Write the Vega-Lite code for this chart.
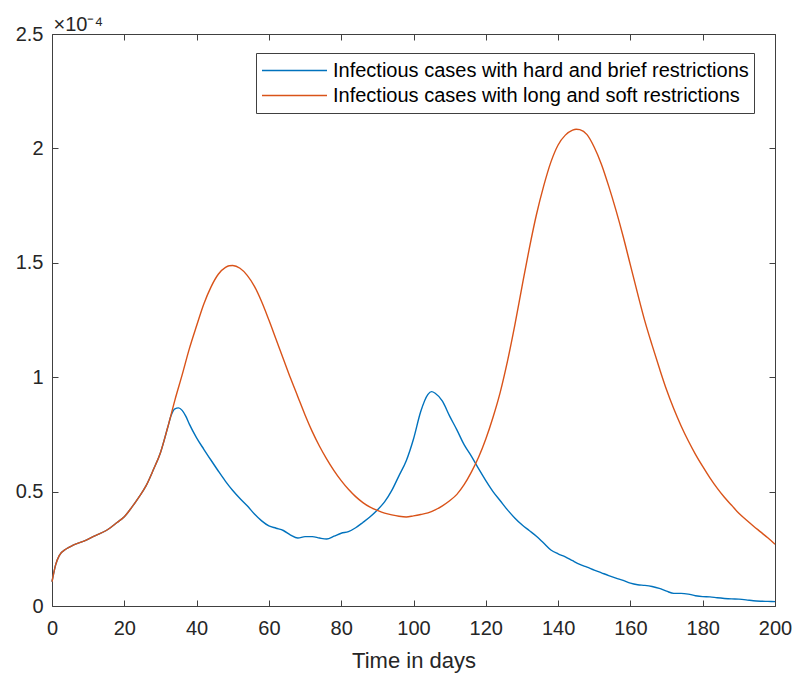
{
  "$schema": "https://vega.github.io/schema/vega-lite/v6.json",
  "width": 723,
  "height": 572,
  "autosize": {"type": "none"},
  "padding": {"left": 52, "top": 34, "right": 20, "bottom": 71},
  "background": "white",
  "config": {
    "view": {"stroke": "#404040", "strokeWidth": 1},
    "font": "Liberation Sans",
    "axis": {
      "domain": false,
      "grid": false,
      "tickColor": "#404040",
      "tickSize": -6,
      "labelColor": "#262626",
      "titleColor": "#262626",
      "labelFont": "Liberation Sans",
      "titleFont": "Liberation Sans",
      "labelFontSize": 20,
      "titleFontSize": 22,
      "titleFontWeight": "normal",
      "labelFlush": false
    }
  },
  "datasets": {
    "curves": [
      {"day": 0, "value": 0.106, "series": "Infectious cases with hard and brief restrictions"},
      {"day": 1, "value": 0.18, "series": "Infectious cases with hard and brief restrictions"},
      {"day": 2, "value": 0.22, "series": "Infectious cases with hard and brief restrictions"},
      {"day": 4, "value": 0.25, "series": "Infectious cases with hard and brief restrictions"},
      {"day": 6, "value": 0.267, "series": "Infectious cases with hard and brief restrictions"},
      {"day": 9, "value": 0.285, "series": "Infectious cases with hard and brief restrictions"},
      {"day": 12, "value": 0.308, "series": "Infectious cases with hard and brief restrictions"},
      {"day": 15, "value": 0.33, "series": "Infectious cases with hard and brief restrictions"},
      {"day": 18, "value": 0.365, "series": "Infectious cases with hard and brief restrictions"},
      {"day": 20, "value": 0.39, "series": "Infectious cases with hard and brief restrictions"},
      {"day": 22, "value": 0.43, "series": "Infectious cases with hard and brief restrictions"},
      {"day": 24, "value": 0.475, "series": "Infectious cases with hard and brief restrictions"},
      {"day": 26, "value": 0.525, "series": "Infectious cases with hard and brief restrictions"},
      {"day": 28, "value": 0.594, "series": "Infectious cases with hard and brief restrictions"},
      {"day": 30, "value": 0.67, "series": "Infectious cases with hard and brief restrictions"},
      {"day": 32, "value": 0.78, "series": "Infectious cases with hard and brief restrictions"},
      {"day": 33, "value": 0.835, "series": "Infectious cases with hard and brief restrictions"},
      {"day": 34, "value": 0.862, "series": "Infectious cases with hard and brief restrictions"},
      {"day": 35, "value": 0.866, "series": "Infectious cases with hard and brief restrictions"},
      {"day": 36, "value": 0.855, "series": "Infectious cases with hard and brief restrictions"},
      {"day": 37, "value": 0.83, "series": "Infectious cases with hard and brief restrictions"},
      {"day": 38, "value": 0.795, "series": "Infectious cases with hard and brief restrictions"},
      {"day": 40, "value": 0.735, "series": "Infectious cases with hard and brief restrictions"},
      {"day": 42, "value": 0.685, "series": "Infectious cases with hard and brief restrictions"},
      {"day": 44, "value": 0.637, "series": "Infectious cases with hard and brief restrictions"},
      {"day": 46, "value": 0.59, "series": "Infectious cases with hard and brief restrictions"},
      {"day": 48, "value": 0.545, "series": "Infectious cases with hard and brief restrictions"},
      {"day": 50, "value": 0.505, "series": "Infectious cases with hard and brief restrictions"},
      {"day": 52, "value": 0.47, "series": "Infectious cases with hard and brief restrictions"},
      {"day": 54, "value": 0.438, "series": "Infectious cases with hard and brief restrictions"},
      {"day": 56, "value": 0.402, "series": "Infectious cases with hard and brief restrictions"},
      {"day": 58, "value": 0.372, "series": "Infectious cases with hard and brief restrictions"},
      {"day": 60, "value": 0.35, "series": "Infectious cases with hard and brief restrictions"},
      {"day": 62, "value": 0.34, "series": "Infectious cases with hard and brief restrictions"},
      {"day": 64, "value": 0.33, "series": "Infectious cases with hard and brief restrictions"},
      {"day": 66, "value": 0.31, "series": "Infectious cases with hard and brief restrictions"},
      {"day": 68, "value": 0.297, "series": "Infectious cases with hard and brief restrictions"},
      {"day": 70, "value": 0.303, "series": "Infectious cases with hard and brief restrictions"},
      {"day": 72, "value": 0.303, "series": "Infectious cases with hard and brief restrictions"},
      {"day": 74, "value": 0.297, "series": "Infectious cases with hard and brief restrictions"},
      {"day": 76, "value": 0.293, "series": "Infectious cases with hard and brief restrictions"},
      {"day": 78, "value": 0.305, "series": "Infectious cases with hard and brief restrictions"},
      {"day": 80, "value": 0.318, "series": "Infectious cases with hard and brief restrictions"},
      {"day": 82, "value": 0.325, "series": "Infectious cases with hard and brief restrictions"},
      {"day": 84, "value": 0.342, "series": "Infectious cases with hard and brief restrictions"},
      {"day": 86, "value": 0.365, "series": "Infectious cases with hard and brief restrictions"},
      {"day": 88, "value": 0.39, "series": "Infectious cases with hard and brief restrictions"},
      {"day": 90, "value": 0.42, "series": "Infectious cases with hard and brief restrictions"},
      {"day": 92, "value": 0.455, "series": "Infectious cases with hard and brief restrictions"},
      {"day": 94, "value": 0.505, "series": "Infectious cases with hard and brief restrictions"},
      {"day": 96, "value": 0.57, "series": "Infectious cases with hard and brief restrictions"},
      {"day": 98, "value": 0.635, "series": "Infectious cases with hard and brief restrictions"},
      {"day": 100, "value": 0.73, "series": "Infectious cases with hard and brief restrictions"},
      {"day": 102, "value": 0.85, "series": "Infectious cases with hard and brief restrictions"},
      {"day": 104, "value": 0.925, "series": "Infectious cases with hard and brief restrictions"},
      {"day": 105, "value": 0.937, "series": "Infectious cases with hard and brief restrictions"},
      {"day": 106, "value": 0.93, "series": "Infectious cases with hard and brief restrictions"},
      {"day": 108, "value": 0.895, "series": "Infectious cases with hard and brief restrictions"},
      {"day": 110, "value": 0.83, "series": "Infectious cases with hard and brief restrictions"},
      {"day": 112, "value": 0.77, "series": "Infectious cases with hard and brief restrictions"},
      {"day": 114, "value": 0.705, "series": "Infectious cases with hard and brief restrictions"},
      {"day": 116, "value": 0.655, "series": "Infectious cases with hard and brief restrictions"},
      {"day": 118, "value": 0.6, "series": "Infectious cases with hard and brief restrictions"},
      {"day": 120, "value": 0.548, "series": "Infectious cases with hard and brief restrictions"},
      {"day": 122, "value": 0.5, "series": "Infectious cases with hard and brief restrictions"},
      {"day": 124, "value": 0.46, "series": "Infectious cases with hard and brief restrictions"},
      {"day": 126, "value": 0.42, "series": "Infectious cases with hard and brief restrictions"},
      {"day": 128, "value": 0.385, "series": "Infectious cases with hard and brief restrictions"},
      {"day": 130, "value": 0.355, "series": "Infectious cases with hard and brief restrictions"},
      {"day": 132, "value": 0.33, "series": "Infectious cases with hard and brief restrictions"},
      {"day": 134, "value": 0.305, "series": "Infectious cases with hard and brief restrictions"},
      {"day": 136, "value": 0.275, "series": "Infectious cases with hard and brief restrictions"},
      {"day": 138, "value": 0.245, "series": "Infectious cases with hard and brief restrictions"},
      {"day": 140, "value": 0.228, "series": "Infectious cases with hard and brief restrictions"},
      {"day": 142, "value": 0.215, "series": "Infectious cases with hard and brief restrictions"},
      {"day": 144, "value": 0.198, "series": "Infectious cases with hard and brief restrictions"},
      {"day": 146, "value": 0.182, "series": "Infectious cases with hard and brief restrictions"},
      {"day": 148, "value": 0.17, "series": "Infectious cases with hard and brief restrictions"},
      {"day": 150, "value": 0.157, "series": "Infectious cases with hard and brief restrictions"},
      {"day": 152, "value": 0.145, "series": "Infectious cases with hard and brief restrictions"},
      {"day": 154, "value": 0.133, "series": "Infectious cases with hard and brief restrictions"},
      {"day": 156, "value": 0.122, "series": "Infectious cases with hard and brief restrictions"},
      {"day": 158, "value": 0.112, "series": "Infectious cases with hard and brief restrictions"},
      {"day": 160, "value": 0.1, "series": "Infectious cases with hard and brief restrictions"},
      {"day": 162, "value": 0.093, "series": "Infectious cases with hard and brief restrictions"},
      {"day": 164, "value": 0.09, "series": "Infectious cases with hard and brief restrictions"},
      {"day": 166, "value": 0.085, "series": "Infectious cases with hard and brief restrictions"},
      {"day": 168, "value": 0.077, "series": "Infectious cases with hard and brief restrictions"},
      {"day": 170, "value": 0.065, "series": "Infectious cases with hard and brief restrictions"},
      {"day": 172, "value": 0.055, "series": "Infectious cases with hard and brief restrictions"},
      {"day": 174, "value": 0.055, "series": "Infectious cases with hard and brief restrictions"},
      {"day": 176, "value": 0.052, "series": "Infectious cases with hard and brief restrictions"},
      {"day": 178, "value": 0.045, "series": "Infectious cases with hard and brief restrictions"},
      {"day": 180, "value": 0.041, "series": "Infectious cases with hard and brief restrictions"},
      {"day": 182, "value": 0.04, "series": "Infectious cases with hard and brief restrictions"},
      {"day": 184, "value": 0.036, "series": "Infectious cases with hard and brief restrictions"},
      {"day": 186, "value": 0.033, "series": "Infectious cases with hard and brief restrictions"},
      {"day": 188, "value": 0.031, "series": "Infectious cases with hard and brief restrictions"},
      {"day": 190, "value": 0.03, "series": "Infectious cases with hard and brief restrictions"},
      {"day": 192, "value": 0.027, "series": "Infectious cases with hard and brief restrictions"},
      {"day": 194, "value": 0.023, "series": "Infectious cases with hard and brief restrictions"},
      {"day": 196, "value": 0.021, "series": "Infectious cases with hard and brief restrictions"},
      {"day": 198, "value": 0.02, "series": "Infectious cases with hard and brief restrictions"},
      {"day": 200, "value": 0.019, "series": "Infectious cases with hard and brief restrictions"},

      {"day": 0, "value": 0.106, "series": "Infectious cases with long and soft restrictions"},
      {"day": 1, "value": 0.18, "series": "Infectious cases with long and soft restrictions"},
      {"day": 2, "value": 0.22, "series": "Infectious cases with long and soft restrictions"},
      {"day": 4, "value": 0.25, "series": "Infectious cases with long and soft restrictions"},
      {"day": 6, "value": 0.267, "series": "Infectious cases with long and soft restrictions"},
      {"day": 9, "value": 0.285, "series": "Infectious cases with long and soft restrictions"},
      {"day": 12, "value": 0.308, "series": "Infectious cases with long and soft restrictions"},
      {"day": 15, "value": 0.33, "series": "Infectious cases with long and soft restrictions"},
      {"day": 18, "value": 0.365, "series": "Infectious cases with long and soft restrictions"},
      {"day": 20, "value": 0.39, "series": "Infectious cases with long and soft restrictions"},
      {"day": 22, "value": 0.43, "series": "Infectious cases with long and soft restrictions"},
      {"day": 24, "value": 0.475, "series": "Infectious cases with long and soft restrictions"},
      {"day": 26, "value": 0.525, "series": "Infectious cases with long and soft restrictions"},
      {"day": 28, "value": 0.594, "series": "Infectious cases with long and soft restrictions"},
      {"day": 30, "value": 0.67, "series": "Infectious cases with long and soft restrictions"},
      {"day": 32, "value": 0.78, "series": "Infectious cases with long and soft restrictions"},
      {"day": 34, "value": 0.9, "series": "Infectious cases with long and soft restrictions"},
      {"day": 36, "value": 1.01, "series": "Infectious cases with long and soft restrictions"},
      {"day": 38, "value": 1.125, "series": "Infectious cases with long and soft restrictions"},
      {"day": 40, "value": 1.225, "series": "Infectious cases with long and soft restrictions"},
      {"day": 42, "value": 1.32, "series": "Infectious cases with long and soft restrictions"},
      {"day": 44, "value": 1.395, "series": "Infectious cases with long and soft restrictions"},
      {"day": 46, "value": 1.45, "series": "Infectious cases with long and soft restrictions"},
      {"day": 48, "value": 1.48, "series": "Infectious cases with long and soft restrictions"},
      {"day": 49, "value": 1.487, "series": "Infectious cases with long and soft restrictions"},
      {"day": 50, "value": 1.488, "series": "Infectious cases with long and soft restrictions"},
      {"day": 52, "value": 1.476, "series": "Infectious cases with long and soft restrictions"},
      {"day": 54, "value": 1.445, "series": "Infectious cases with long and soft restrictions"},
      {"day": 56, "value": 1.397, "series": "Infectious cases with long and soft restrictions"},
      {"day": 58, "value": 1.33, "series": "Infectious cases with long and soft restrictions"},
      {"day": 60, "value": 1.25, "series": "Infectious cases with long and soft restrictions"},
      {"day": 62, "value": 1.165, "series": "Infectious cases with long and soft restrictions"},
      {"day": 64, "value": 1.08, "series": "Infectious cases with long and soft restrictions"},
      {"day": 66, "value": 0.995, "series": "Infectious cases with long and soft restrictions"},
      {"day": 68, "value": 0.915, "series": "Infectious cases with long and soft restrictions"},
      {"day": 70, "value": 0.835, "series": "Infectious cases with long and soft restrictions"},
      {"day": 72, "value": 0.762, "series": "Infectious cases with long and soft restrictions"},
      {"day": 74, "value": 0.698, "series": "Infectious cases with long and soft restrictions"},
      {"day": 76, "value": 0.642, "series": "Infectious cases with long and soft restrictions"},
      {"day": 78, "value": 0.592, "series": "Infectious cases with long and soft restrictions"},
      {"day": 80, "value": 0.548, "series": "Infectious cases with long and soft restrictions"},
      {"day": 82, "value": 0.51, "series": "Infectious cases with long and soft restrictions"},
      {"day": 84, "value": 0.478, "series": "Infectious cases with long and soft restrictions"},
      {"day": 86, "value": 0.452, "series": "Infectious cases with long and soft restrictions"},
      {"day": 88, "value": 0.432, "series": "Infectious cases with long and soft restrictions"},
      {"day": 90, "value": 0.418, "series": "Infectious cases with long and soft restrictions"},
      {"day": 92, "value": 0.406, "series": "Infectious cases with long and soft restrictions"},
      {"day": 94, "value": 0.398, "series": "Infectious cases with long and soft restrictions"},
      {"day": 96, "value": 0.392, "series": "Infectious cases with long and soft restrictions"},
      {"day": 98, "value": 0.389, "series": "Infectious cases with long and soft restrictions"},
      {"day": 100, "value": 0.394, "series": "Infectious cases with long and soft restrictions"},
      {"day": 102, "value": 0.4, "series": "Infectious cases with long and soft restrictions"},
      {"day": 104, "value": 0.407, "series": "Infectious cases with long and soft restrictions"},
      {"day": 106, "value": 0.42, "series": "Infectious cases with long and soft restrictions"},
      {"day": 108, "value": 0.438, "series": "Infectious cases with long and soft restrictions"},
      {"day": 110, "value": 0.46, "series": "Infectious cases with long and soft restrictions"},
      {"day": 112, "value": 0.488, "series": "Infectious cases with long and soft restrictions"},
      {"day": 114, "value": 0.53, "series": "Infectious cases with long and soft restrictions"},
      {"day": 116, "value": 0.585, "series": "Infectious cases with long and soft restrictions"},
      {"day": 118, "value": 0.65, "series": "Infectious cases with long and soft restrictions"},
      {"day": 120, "value": 0.73, "series": "Infectious cases with long and soft restrictions"},
      {"day": 122, "value": 0.825, "series": "Infectious cases with long and soft restrictions"},
      {"day": 124, "value": 0.935, "series": "Infectious cases with long and soft restrictions"},
      {"day": 126, "value": 1.07, "series": "Infectious cases with long and soft restrictions"},
      {"day": 128, "value": 1.225, "series": "Infectious cases with long and soft restrictions"},
      {"day": 130, "value": 1.395, "series": "Infectious cases with long and soft restrictions"},
      {"day": 132, "value": 1.56, "series": "Infectious cases with long and soft restrictions"},
      {"day": 134, "value": 1.71, "series": "Infectious cases with long and soft restrictions"},
      {"day": 136, "value": 1.835, "series": "Infectious cases with long and soft restrictions"},
      {"day": 138, "value": 1.94, "series": "Infectious cases with long and soft restrictions"},
      {"day": 140, "value": 2.015, "series": "Infectious cases with long and soft restrictions"},
      {"day": 142, "value": 2.058, "series": "Infectious cases with long and soft restrictions"},
      {"day": 144, "value": 2.08, "series": "Infectious cases with long and soft restrictions"},
      {"day": 145, "value": 2.084, "series": "Infectious cases with long and soft restrictions"},
      {"day": 146, "value": 2.082, "series": "Infectious cases with long and soft restrictions"},
      {"day": 148, "value": 2.06, "series": "Infectious cases with long and soft restrictions"},
      {"day": 150, "value": 2.005, "series": "Infectious cases with long and soft restrictions"},
      {"day": 152, "value": 1.93, "series": "Infectious cases with long and soft restrictions"},
      {"day": 154, "value": 1.835, "series": "Infectious cases with long and soft restrictions"},
      {"day": 156, "value": 1.73, "series": "Infectious cases with long and soft restrictions"},
      {"day": 158, "value": 1.615, "series": "Infectious cases with long and soft restrictions"},
      {"day": 160, "value": 1.49, "series": "Infectious cases with long and soft restrictions"},
      {"day": 162, "value": 1.365, "series": "Infectious cases with long and soft restrictions"},
      {"day": 164, "value": 1.245, "series": "Infectious cases with long and soft restrictions"},
      {"day": 166, "value": 1.14, "series": "Infectious cases with long and soft restrictions"},
      {"day": 168, "value": 1.04, "series": "Infectious cases with long and soft restrictions"},
      {"day": 170, "value": 0.945, "series": "Infectious cases with long and soft restrictions"},
      {"day": 172, "value": 0.862, "series": "Infectious cases with long and soft restrictions"},
      {"day": 174, "value": 0.788, "series": "Infectious cases with long and soft restrictions"},
      {"day": 176, "value": 0.722, "series": "Infectious cases with long and soft restrictions"},
      {"day": 178, "value": 0.663, "series": "Infectious cases with long and soft restrictions"},
      {"day": 180, "value": 0.61, "series": "Infectious cases with long and soft restrictions"},
      {"day": 182, "value": 0.56, "series": "Infectious cases with long and soft restrictions"},
      {"day": 184, "value": 0.515, "series": "Infectious cases with long and soft restrictions"},
      {"day": 186, "value": 0.475, "series": "Infectious cases with long and soft restrictions"},
      {"day": 188, "value": 0.44, "series": "Infectious cases with long and soft restrictions"},
      {"day": 190, "value": 0.405, "series": "Infectious cases with long and soft restrictions"},
      {"day": 192, "value": 0.377, "series": "Infectious cases with long and soft restrictions"},
      {"day": 194, "value": 0.35, "series": "Infectious cases with long and soft restrictions"},
      {"day": 196, "value": 0.324, "series": "Infectious cases with long and soft restrictions"},
      {"day": 198, "value": 0.298, "series": "Infectious cases with long and soft restrictions"},
      {"day": 200, "value": 0.27, "series": "Infectious cases with long and soft restrictions"}
    ]
  },
  "data": {"name": "curves"},
  "layer": [
    {
      "mark": {"type": "line", "strokeWidth": 1.4, "interpolate": "monotone"},
      "encoding": {
        "x": {
          "field": "day", "type": "quantitative",
          "scale": {"domain": [0, 200], "nice": false},
          "axis": {"orient": "bottom", "values": [0, 20, 40, 60, 80, 100, 120, 140, 160, 180, 200], "title": "Time in days", "labelPadding": 18, "titlePadding": 12}
        },
        "y": {
          "field": "value", "type": "quantitative",
          "scale": {"domain": [0, 2.5], "nice": false},
          "axis": {
            "orient": "left", "values": [0, 0.5, 1, 1.5, 2, 2.5], "format": "~g", "labelPadding": 15,
            "title": "×10⁻⁴",
            "titleAngle": 0,
            "titleAlign": "left",
            "titleBaseline": "alphabetic",
            "titleFontSize": 20,
            "titleX": 1,
            "titleY": -4
          }
        },
        "color": {
          "field": "series", "type": "nominal",
          "scale": {"domain": ["Infectious cases with hard and brief restrictions", "Infectious cases with long and soft restrictions"], "range": ["#0072BD", "#D95319"]},
          "legend": {
            "title": null,
            "orient": "none",
            "legendX": 204,
            "legendY": 19,
            "symbolType": "stroke",
            "symbolSize": 4225,
            "symbolStrokeWidth": 1.4,
            "clipHeight": 25,
            "rowPadding": 0,
            "labelFontSize": 20,
            "labelFont": "Liberation Sans",
            "labelColor": "#000000",
            "labelLimit": 600,
            "labelOffset": 5,
            "padding": 5,
            "strokeColor": "#404040",
            "fillColor": "white"
          }
        }
      }
    },
    {
      "mark": {"type": "line", "opacity": 0},
      "encoding": {
        "x": {
          "field": "day", "type": "quantitative",
          "axis": {"orient": "top", "values": [0, 20, 40, 60, 80, 100, 120, 140, 160, 180, 200], "labels": false, "title": null}
        },
        "y": {
          "field": "value", "type": "quantitative",
          "axis": {"orient": "right", "values": [0, 0.5, 1, 1.5, 2, 2.5], "labels": false, "title": null}
        },
        "detail": {"field": "series"}
      }
    }
  ],
  "resolve": {"axis": {"x": "independent", "y": "independent"}}
}
